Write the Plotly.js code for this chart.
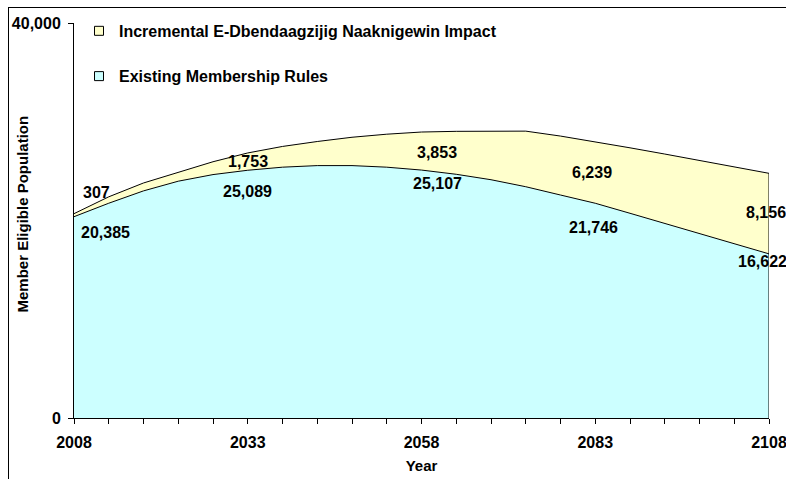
<!DOCTYPE html>
<html>
<head>
<meta charset="utf-8">
<script src="https://cdn.plot.ly/plotly-3.0.1.min.js"></script>
<style>
  html, body { margin: 0; padding: 0; background: #fff; overflow: hidden; }
  #chart { position: absolute; left: 0; top: 0; width: 786px; height: 479px; }
  #frame { position: absolute; left: 8px; top: 7px; width: 820px; height: 520px;
           border-left: 1px solid #000; border-top: 1px solid #000; pointer-events: none; }
</style>
</head>
<body>
<div id="chart"></div>
<div id="frame"></div>
<script>
// ---- data ----
const years = [2008, 2013, 2018, 2023, 2028, 2033, 2038, 2043, 2048, 2053, 2058,
               2063, 2068, 2073, 2078, 2083, 2088, 2093, 2098, 2103, 2108];
const existing = [20385, 21750, 23000, 23980, 24650, 25089, 25400, 25560, 25560, 25400, 25107,
                  24680, 24130, 23420, 22580, 21746, 20730, 19700, 18670, 17640, 16622];
const incremental = [307, 650, 800, 920, 1300, 1753, 2100, 2440, 2870, 3340, 3853,
                     4350, 4930, 5630, 5970, 6239, 6630, 7030, 7410, 7790, 8156];
const labelYears = [2008, 2033, 2058, 2083, 2108];
const seriesNames = ['Existing Membership Rules', 'Incremental E-Dbendaagzijig Naaknigewin Impact'];
const xTicks = [2008, 2033, 2058, 2083, 2108];
const yTicks = [0, 40000];
const yTickText = ['0', '40,000'];

// label pixel offsets [dx, dy] (styling only)
const existOffsets = [[31, -15.5], [0, -21], [16, -13], [-2, -24], [-7, -8]];
const incrOffsets  = [[22, 22.5], [0, 0.5], [15, -1.3], [-3, -0.5], [-3, 1]];

const FONT = 'Liberation Sans, Arial, Helvetica, sans-serif';
const colExisting = '#CCFFFF';
const colIncr = '#FFFFCC';

const traces = [
  { x: years, y: existing, name: seriesNames[0], type: 'scatter', mode: 'lines',
    stackgroup: 'one', fillcolor: colExisting, line: { color: '#000', width: 1 },
    showlegend: false, hoverinfo: 'skip' },
  { x: years, y: incremental, name: seriesNames[1], type: 'scatter', mode: 'lines',
    stackgroup: 'one', fillcolor: colIncr, line: { color: '#000', width: 1 },
    showlegend: false, hoverinfo: 'skip' },
  // right edge of the stacked area
  { x: [years[years.length - 1], years[years.length - 1]],
    y: [0, existing[existing.length - 1] + incremental[incremental.length - 1]],
    type: 'scatter', mode: 'lines', line: { color: '#000', width: 1 },
    showlegend: false, hoverinfo: 'skip' },
  // legend entries
  { x: [null], y: [null], type: 'scatter', mode: 'markers', name: seriesNames[1],
    legendgroup: 'b', marker: { symbol: 'square', size: 9, color: colIncr, line: { color: '#000', width: 1 } } },
  { x: [null], y: [null], type: 'scatter', mode: 'markers', name: seriesNames[0],
    legendgroup: 'a', marker: { symbol: 'square', size: 9, color: colExisting, line: { color: '#000', width: 1 } } }
];

const annotations = [];
labelYears.forEach((yr, k) => {
  const i = years.indexOf(yr);
  annotations.push({
    x: yr, y: existing[i], xref: 'x', yref: 'y', showarrow: false,
    text: existing[i].toLocaleString('en-US'),
    xanchor: 'center', yanchor: 'middle',
    xshift: existOffsets[k][0], yshift: existOffsets[k][1],
    font: { family: FONT, size: 16, weight: 'bold', color: '#000' }
  });
  annotations.push({
    x: yr, y: existing[i] + incremental[i] / 2, xref: 'x', yref: 'y', showarrow: false,
    text: incremental[i].toLocaleString('en-US'),
    xanchor: 'center', yanchor: 'middle',
    xshift: incrOffsets[k][0], yshift: incrOffsets[k][1],
    font: { family: FONT, size: 16, weight: 'bold', color: '#000' }
  });
});
// y-axis title
annotations.push({
  xref: 'paper', yref: 'paper', x: 0, y: 0.5, xshift: -52, yshift: 6,
  text: 'Member Eligible Population', textangle: -90, showarrow: false,
  xanchor: 'center', yanchor: 'middle',
  font: { family: FONT, size: 15, weight: 'bold', color: '#000' }
});

const layout = {
  width: 786, height: 479,
  margin: { l: 74, r: 17, t: 23, b: 61 },
  paper_bgcolor: '#fff', plot_bgcolor: '#fff',
  font: { family: FONT, size: 16, weight: 'bold', color: '#000' },
  showlegend: true,
  legend: { x: 5 / 695, y: 1.023, xanchor: 'left', yanchor: 'top', bgcolor: 'rgba(0,0,0,0)',
            traceorder: 'grouped', tracegroupgap: 21.5,
            font: { family: FONT, size: 16, weight: 'bold', color: '#000' } },
  xaxis: {
    range: [2008, 2108], tickvals: xTicks, ticktext: xTicks.map(String),
    ticks: 'outside', ticklen: 5, tickcolor: '#000', tickwidth: 1,
    ticklabeloverflow: 'allow', ticklabelstandoff: 5,
    minor: { dtick: 5, tick0: 2008, ticks: 'outside', ticklen: 5, tickcolor: '#000', tickwidth: 1, showgrid: false },
    showline: true, linecolor: '#000', linewidth: 1, showgrid: false, zeroline: false,
    tickfont: { family: FONT, size: 16, weight: 'bold', color: '#000' },
    title: { text: 'Year', standoff: 10, font: { family: FONT, size: 15, weight: 'bold', color: '#000' } },
    fixedrange: true
  },
  yaxis: {
    range: [0, 40000], tickvals: yTicks, ticktext: yTickText,
    ticks: 'outside', ticklen: 5, tickcolor: '#000', tickwidth: 1, ticklabelstandoff: 4,
    showline: true, linecolor: '#000', linewidth: 1, showgrid: false, zeroline: false,
    tickfont: { family: FONT, size: 16, weight: 'bold', color: '#000' },
    fixedrange: true
  },
  annotations: annotations
};

Plotly.newPlot('chart', traces, layout, { displayModeBar: false, staticPlot: true });
</script>
</body>
</html>
